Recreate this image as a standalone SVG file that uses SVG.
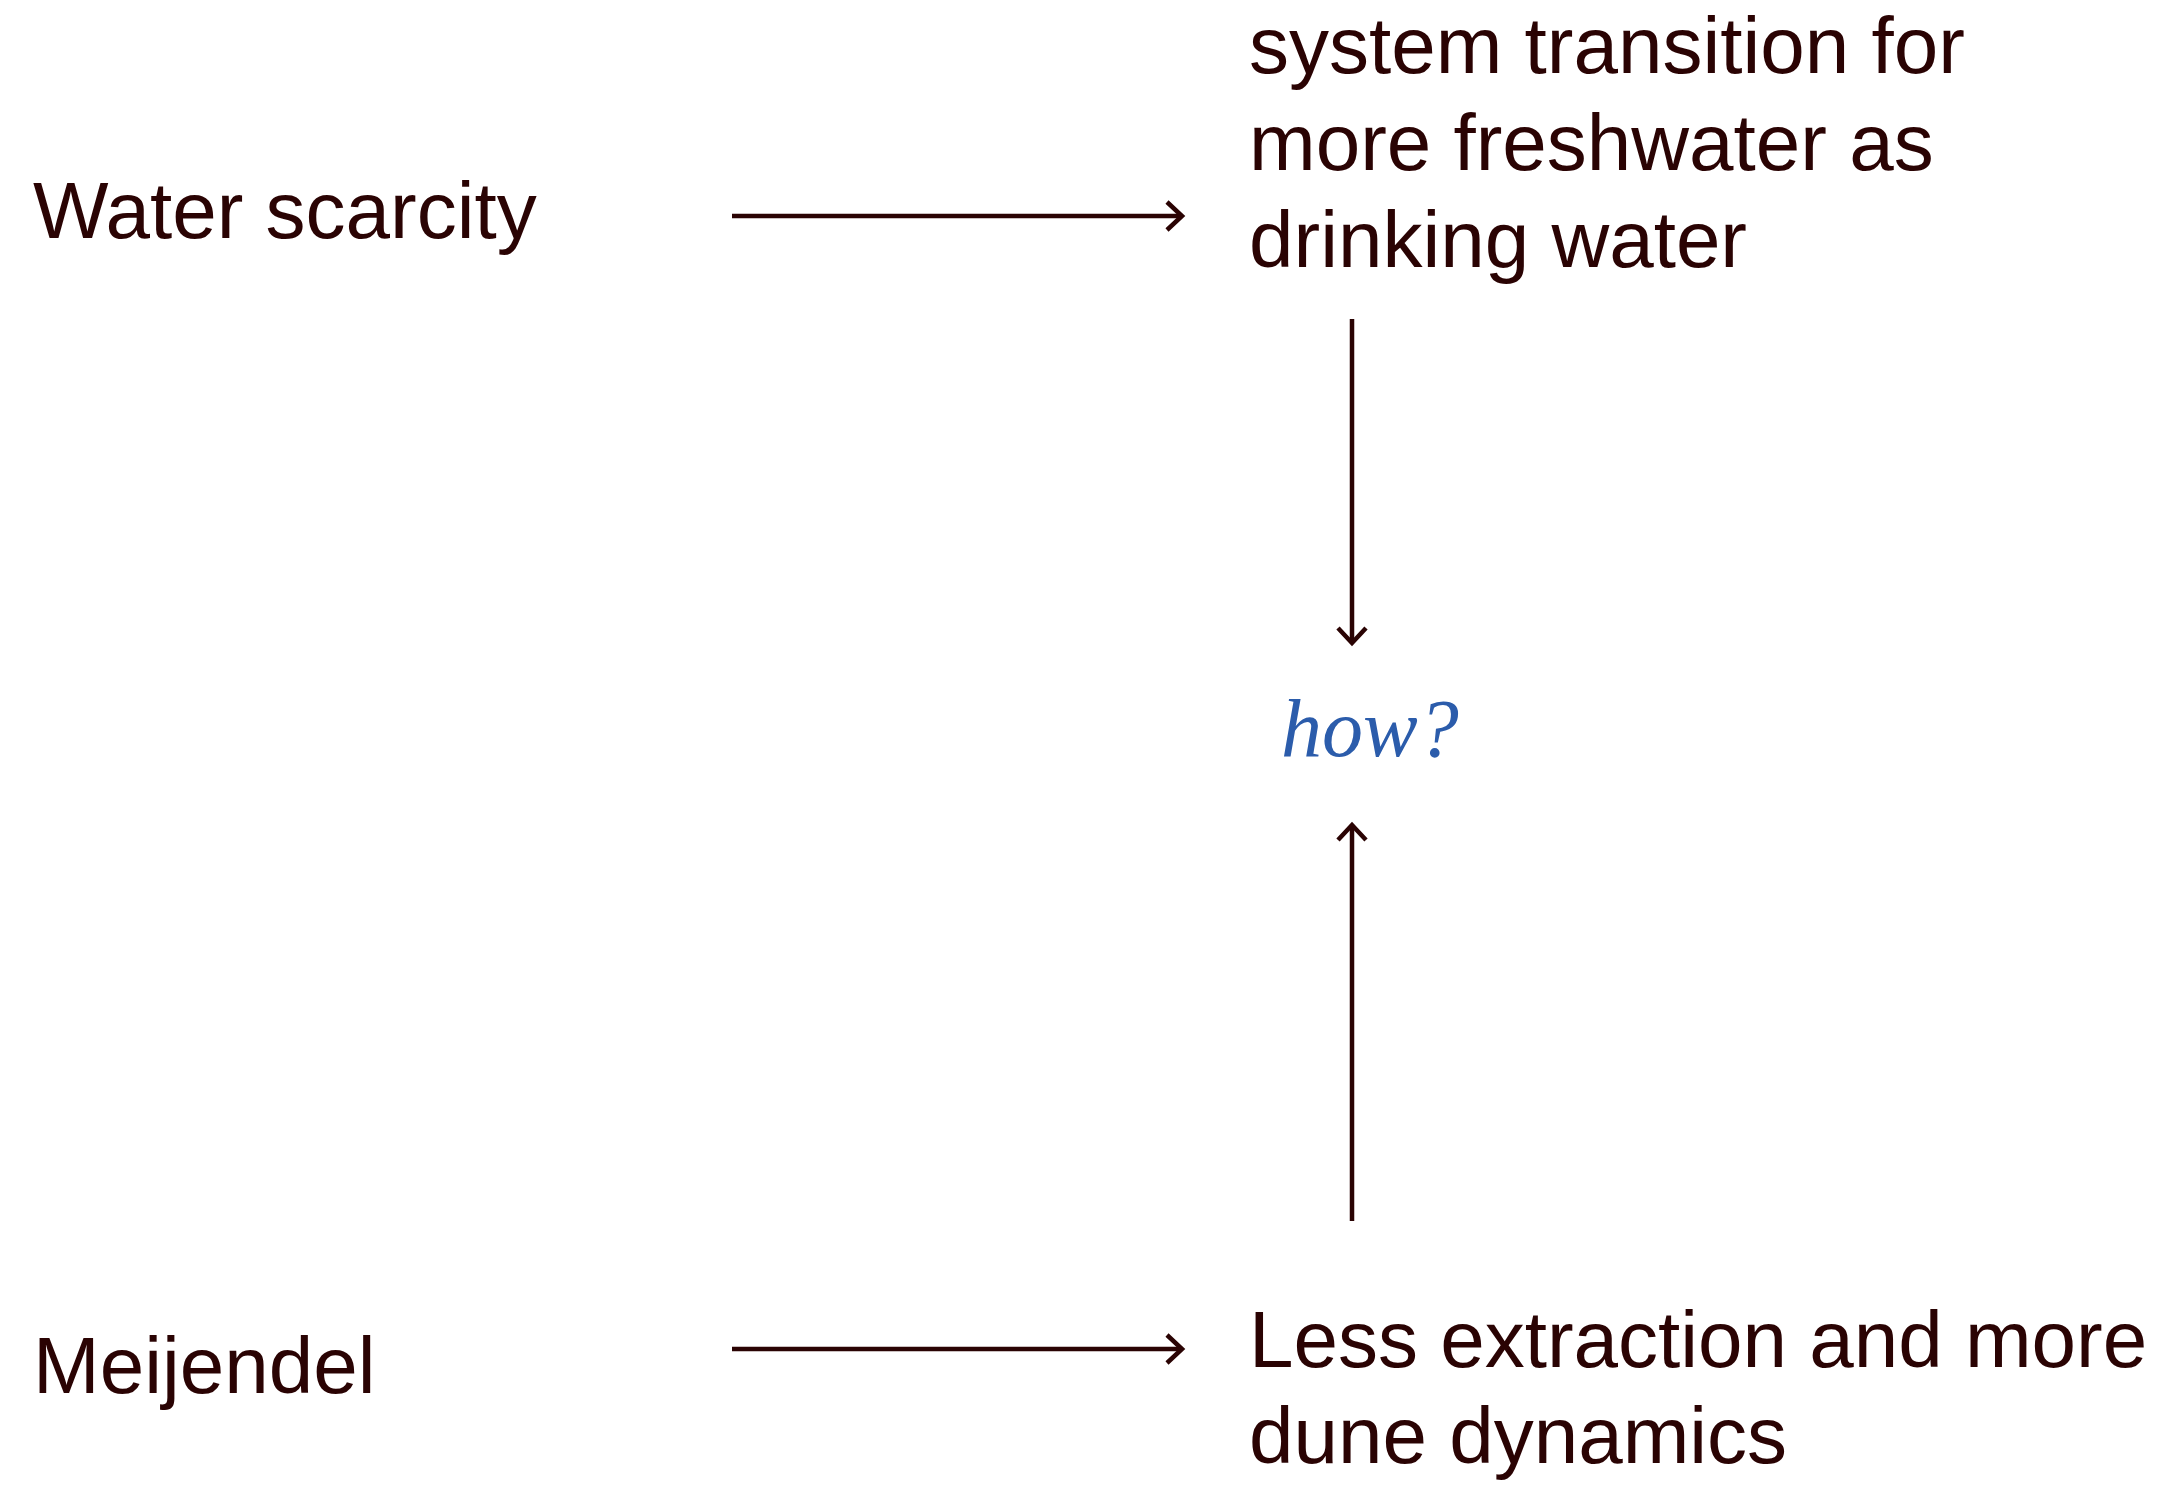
<svg xmlns="http://www.w3.org/2000/svg" width="2162" height="1489" viewBox="0 0 2162 1489">
  <style>
    .lbl { font-family: "Liberation Sans", Arial, Helvetica, sans-serif; font-size: 80px; fill: #2a0303; }
    .how { font-family: "Liberation Serif", "Times New Roman", serif; font-style: italic; font-size: 82px; fill: #2b5cab; }
    .conn { stroke: #2a0303; stroke-width: 4.5; fill: none; }
  </style>
  <defs>
    <marker id="arr" viewBox="-20 -20 24 40" markerUnits="userSpaceOnUse" markerWidth="24" markerHeight="40" refX="0" refY="0" orient="auto">
      <path d="M-15,-14 L0,0 L-15,14" fill="none" stroke="#2a0303" stroke-width="4.5" stroke-linejoin="miter"/>
    </marker>
  </defs>
  <rect width="2162" height="1489" fill="#ffffff"/>
  <g id="node-water-scarcity">
    <text class="lbl" x="33" y="238">Water scarcity</text>
  </g>
  <g id="node-system-transition">
    <text class="lbl" x="1249" y="73">system transition for</text>
    <text class="lbl" x="1249" y="170">more freshwater as</text>
    <text class="lbl" x="1249" y="267">drinking water</text>
  </g>
  <g id="node-how">
    <text class="how" x="1281" y="756">how?</text>
  </g>
  <g id="node-meijendel">
    <text class="lbl" x="33" y="1393">Meijendel</text>
  </g>
  <g id="node-less-extraction">
    <text class="lbl" x="1249" y="1367">Less extraction and more</text>
    <text class="lbl" x="1249" y="1463">dune dynamics</text>
  </g>
  <g id="connectors">
    <line class="conn" x1="732" y1="216" x2="1182" y2="216" marker-end="url(#arr)"/>
    <line class="conn" x1="732" y1="1349" x2="1182" y2="1349" marker-end="url(#arr)"/>
    <line class="conn" x1="1352" y1="319" x2="1352" y2="643" marker-end="url(#arr)"/>
    <line class="conn" x1="1352" y1="1221" x2="1352" y2="825" marker-end="url(#arr)"/>
  </g>
</svg>
